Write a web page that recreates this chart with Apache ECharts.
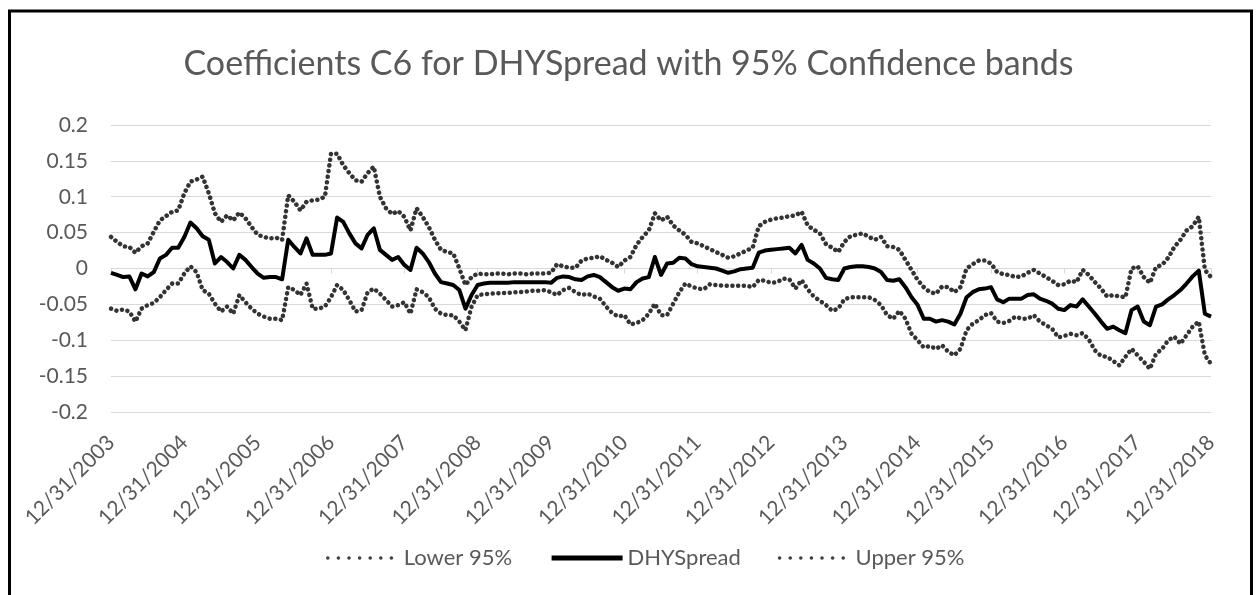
<!DOCTYPE html>
<html>
<head>
<meta charset="utf-8">
<title>Coefficients C6 for DHYSpread</title>
<script src="https://cdn.jsdelivr.net/npm/echarts@6/dist/echarts.min.js"></script>
<style>
  html, body { margin: 0; padding: 0; background: #fff; }
  #chart { width: 1257px; height: 595px; }
</style>
</head>
<body>
<div id="chart"></div>
<script>
  // month-end dates, 12/31/2003 .. 12/31/2018
  var categories = []
  for (var y = 2003; y <= 2018; y++) {
    for (var mo = 1; mo <= 12; mo++) {
      if (y === 2003 && mo < 12) continue
      var last = new Date(y, mo, 0).getDate()
      categories.push(mo + '/' + last + '/' + y)
    }
  }

  var yTicks = [-0.2, -0.15, -0.1, -0.05, 0, 0.05, 0.1, 0.15, 0.2]

  var dhySpread = [
    -0.006, -0.009, -0.012, -0.011, -0.029, -0.007, -0.011, -0.005, 0.014, 0.019, 0.029, 0.029,
    0.044, 0.064, 0.056, 0.045, 0.040, 0.007, 0.016, 0.009, 0.000, 0.019, 0.012, 0.002,
    -0.007, -0.013, -0.012, -0.012, -0.015, 0.040, 0.030, 0.021, 0.042, 0.019, 0.019, 0.019,
    0.021, 0.071, 0.065, 0.049, 0.035, 0.028, 0.047, 0.056, 0.026, 0.019, 0.012, 0.016,
    0.005, -0.002, 0.029, 0.021, 0.009, -0.007, -0.019, -0.021, -0.023, -0.030, -0.056, -0.037,
    -0.023, -0.021, -0.020, -0.020, -0.020, -0.020, -0.019, -0.019, -0.019, -0.019, -0.019, -0.019,
    -0.020, -0.013, -0.011, -0.012, -0.015, -0.016, -0.011, -0.009, -0.012, -0.019, -0.026, -0.031,
    -0.028, -0.029, -0.019, -0.014, -0.012, 0.016, -0.009, 0.007, 0.008, 0.015, 0.014, 0.006,
    0.003, 0.002, 0.001, 0.000, -0.003, -0.006, -0.004, -0.001, 0.000, 0.001, 0.022, 0.025,
    0.026, 0.027, 0.028, 0.029, 0.021, 0.033, 0.012, 0.007, 0.000, -0.013, -0.015, -0.016,
    0.000, 0.002, 0.003, 0.003, 0.002, 0.000, -0.005, -0.016, -0.017, -0.015, -0.026, -0.040,
    -0.051, -0.070, -0.070, -0.074, -0.072, -0.074, -0.078, -0.063, -0.040, -0.033, -0.029, -0.028,
    -0.026, -0.043, -0.047, -0.042, -0.042, -0.042, -0.037, -0.036, -0.042, -0.045, -0.049, -0.056,
    -0.058, -0.051, -0.053, -0.043, -0.053, -0.063, -0.074, -0.084, -0.081, -0.086, -0.090, -0.058,
    -0.053, -0.074, -0.079, -0.053, -0.050, -0.043, -0.037, -0.030, -0.021, -0.011, -0.003, -0.063,
    -0.067
  ]

  var upper95 = [
    0.044, 0.037, 0.031, 0.030, 0.022, 0.031, 0.035, 0.051, 0.067, 0.073, 0.079, 0.081,
    0.105, 0.121, 0.124, 0.128, 0.105, 0.077, 0.065, 0.074, 0.067, 0.078, 0.070, 0.058,
    0.047, 0.044, 0.042, 0.043, 0.040, 0.102, 0.093, 0.081, 0.093, 0.095, 0.096, 0.100,
    0.160, 0.160, 0.144, 0.133, 0.123, 0.121, 0.133, 0.142, 0.100, 0.084, 0.076, 0.080,
    0.072, 0.053, 0.084, 0.072, 0.058, 0.040, 0.026, 0.023, 0.021, 0.000, -0.023, -0.012,
    -0.007, -0.008, -0.008, -0.007, -0.007, -0.008, -0.007, -0.007, -0.008, -0.007, -0.007, -0.007,
    -0.006, 0.006, 0.003, 0.001, 0.001, 0.011, 0.014, 0.015, 0.017, 0.012, 0.008, 0.002,
    0.011, 0.016, 0.033, 0.044, 0.053, 0.077, 0.067, 0.072, 0.060, 0.053, 0.047, 0.037,
    0.035, 0.031, 0.027, 0.023, 0.019, 0.015, 0.017, 0.021, 0.025, 0.029, 0.059, 0.065,
    0.068, 0.070, 0.071, 0.073, 0.074, 0.079, 0.060, 0.054, 0.049, 0.034, 0.029, 0.023,
    0.037, 0.045, 0.047, 0.049, 0.044, 0.040, 0.044, 0.031, 0.030, 0.026, 0.012, -0.002,
    -0.016, -0.026, -0.033, -0.035, -0.025, -0.026, -0.033, -0.026, 0.000, 0.006, 0.011, 0.011,
    0.007, -0.005, -0.008, -0.009, -0.012, -0.011, -0.006, -0.002, -0.007, -0.012, -0.017, -0.023,
    -0.022, -0.017, -0.019, -0.002, -0.009, -0.019, -0.028, -0.039, -0.037, -0.039, -0.040, 0.000,
    0.003, -0.012, -0.020, 0.002, 0.005, 0.015, 0.030, 0.040, 0.053, 0.059, 0.072, -0.002,
    -0.012
  ]

  var lower95 = [
    -0.056, -0.059, -0.057, -0.060, -0.074, -0.056, -0.051, -0.048, -0.040, -0.030, -0.021, -0.021,
    -0.007, 0.003, -0.005, -0.030, -0.035, -0.049, -0.060, -0.053, -0.063, -0.037, -0.047, -0.056,
    -0.063, -0.067, -0.070, -0.070, -0.072, -0.026, -0.030, -0.037, -0.021, -0.056, -0.056, -0.053,
    -0.040, -0.023, -0.030, -0.044, -0.060, -0.058, -0.033, -0.028, -0.035, -0.044, -0.053, -0.051,
    -0.047, -0.063, -0.029, -0.033, -0.040, -0.056, -0.063, -0.065, -0.065, -0.074, -0.086, -0.053,
    -0.037, -0.036, -0.035, -0.035, -0.034, -0.034, -0.033, -0.033, -0.032, -0.031, -0.031, -0.030,
    -0.033, -0.037, -0.030, -0.027, -0.033, -0.037, -0.035, -0.039, -0.042, -0.053, -0.062, -0.067,
    -0.065, -0.078, -0.076, -0.072, -0.063, -0.049, -0.065, -0.065, -0.049, -0.033, -0.021, -0.025,
    -0.028, -0.029, -0.022, -0.023, -0.024, -0.024, -0.024, -0.024, -0.024, -0.026, -0.016, -0.017,
    -0.020, -0.019, -0.014, -0.015, -0.028, -0.016, -0.029, -0.039, -0.045, -0.051, -0.059, -0.056,
    -0.043, -0.040, -0.040, -0.040, -0.040, -0.044, -0.051, -0.065, -0.070, -0.059, -0.070, -0.091,
    -0.100, -0.110, -0.108, -0.112, -0.107, -0.116, -0.121, -0.112, -0.086, -0.077, -0.072, -0.065,
    -0.062, -0.074, -0.076, -0.073, -0.067, -0.070, -0.070, -0.065, -0.074, -0.079, -0.084, -0.096,
    -0.094, -0.091, -0.093, -0.090, -0.099, -0.114, -0.122, -0.123, -0.129, -0.135, -0.123, -0.112,
    -0.121, -0.130, -0.140, -0.119, -0.112, -0.100, -0.095, -0.105, -0.093, -0.081, -0.074, -0.121,
    -0.133
  ]

  var textColor = '#595959'
  var gridColor = '#d9d9d9'
  var font = 'Lato'

  // only the year-end labels / ticks are shown
  function yearEnd(index) {
    return index % 12 === 0
  }

  var chart = echarts.init(document.getElementById('chart'))
  var dotted = {
    color: '#333333',
    width: 4.5,
    type: [0.1, 5.6],
    cap: 'round',
    join: 'round'
  }
  var legendDots = { width: 3.5, type: [0.1, 10.5], cap: 'round', color: '#404040' }

  var option = {
    animation: false,
    title: {
      text: 'Coefficients C6 for DHYSpread with 95% Confidence bands',
      left: 'center',
      top: 42,
      textStyle: {
        fontFamily: font,
        fontSize: 34,
        fontWeight: 'normal',
        color: textColor
      }
    },
    legend: {
      left: 321,
      top: 542,
      itemWidth: 71,
      itemHeight: 14,
      itemGap: 37,
      itemStyle: { color: 'transparent', borderWidth: 0 },
      textStyle: { fontFamily: font, fontSize: 22, color: textColor },
      data: [
        { name: 'Lower 95%', lineStyle: legendDots },
        { name: 'DHYSpread', lineStyle: { width: 5, type: 'solid', color: '#000' } },
        { name: 'Upper 95%', lineStyle: legendDots }
      ]
    },
    grid: {
      left: 111,
      right: 46,
      top: 125,
      bottom: 183
    },
    xAxis: [
      {
        type: 'category',
        data: categories,
        boundaryGap: false,
        position: 'bottom',
        axisLine: { show: false, onZero: false },
        axisTick: { show: false },
        splitLine: { show: false },
        axisLabel: {
          interval: yearEnd,
          rotate: 45,
          margin: 27,
          fontFamily: font,
          fontSize: 21,
          color: textColor
        }
      },
      {
        // horizontal axis line crossing at 0, with year ticks
        type: 'category',
        data: categories,
        boundaryGap: false,
        position: 'bottom',
        axisLine: { show: true, onZero: true, lineStyle: { color: gridColor, width: 1 } },
        axisTick: { show: true, interval: yearEnd, length: 5, lineStyle: { color: gridColor } },
        axisLabel: { show: false },
        splitLine: { show: false }
      }
    ],
    yAxis: {
      type: 'value',
      min: -0.2,
      max: 0.2,
      interval: 0.05,
      axisLine: { show: false },
      axisTick: { show: false },
      axisLabel: {
        margin: 23,
        fontFamily: font,
        fontSize: 21,
        color: textColor,
        formatter: function (v) {
          return String(parseFloat(v.toFixed(2)))
        }
      },
      splitLine: { lineStyle: { color: gridColor, width: 1 } }
    },
    graphic: [
      {
        type: 'rect',
        shape: { x: 9.5, y: 11, width: 1242, height: 620 },
        style: { fill: 'none', stroke: '#000', lineWidth: 3 },
        silent: true
      }
    ],
    series: [
      {
        name: 'Lower 95%',
        type: 'line',
        xAxisIndex: 0,
        data: lower95,
        symbol: 'none',
        showSymbol: false,
        lineStyle: dotted
      },
      {
        name: 'DHYSpread',
        type: 'line',
        xAxisIndex: 0,
        data: dhySpread,
        symbol: 'none',
        showSymbol: false,
        lineStyle: { color: '#000', width: 4, join: 'round' }
      },
      {
        name: 'Upper 95%',
        type: 'line',
        xAxisIndex: 0,
        data: upper95,
        symbol: 'none',
        showSymbol: false,
        lineStyle: dotted
      }
    ]
  }
  chart.setOption(option)
</script>
</body>
</html>
